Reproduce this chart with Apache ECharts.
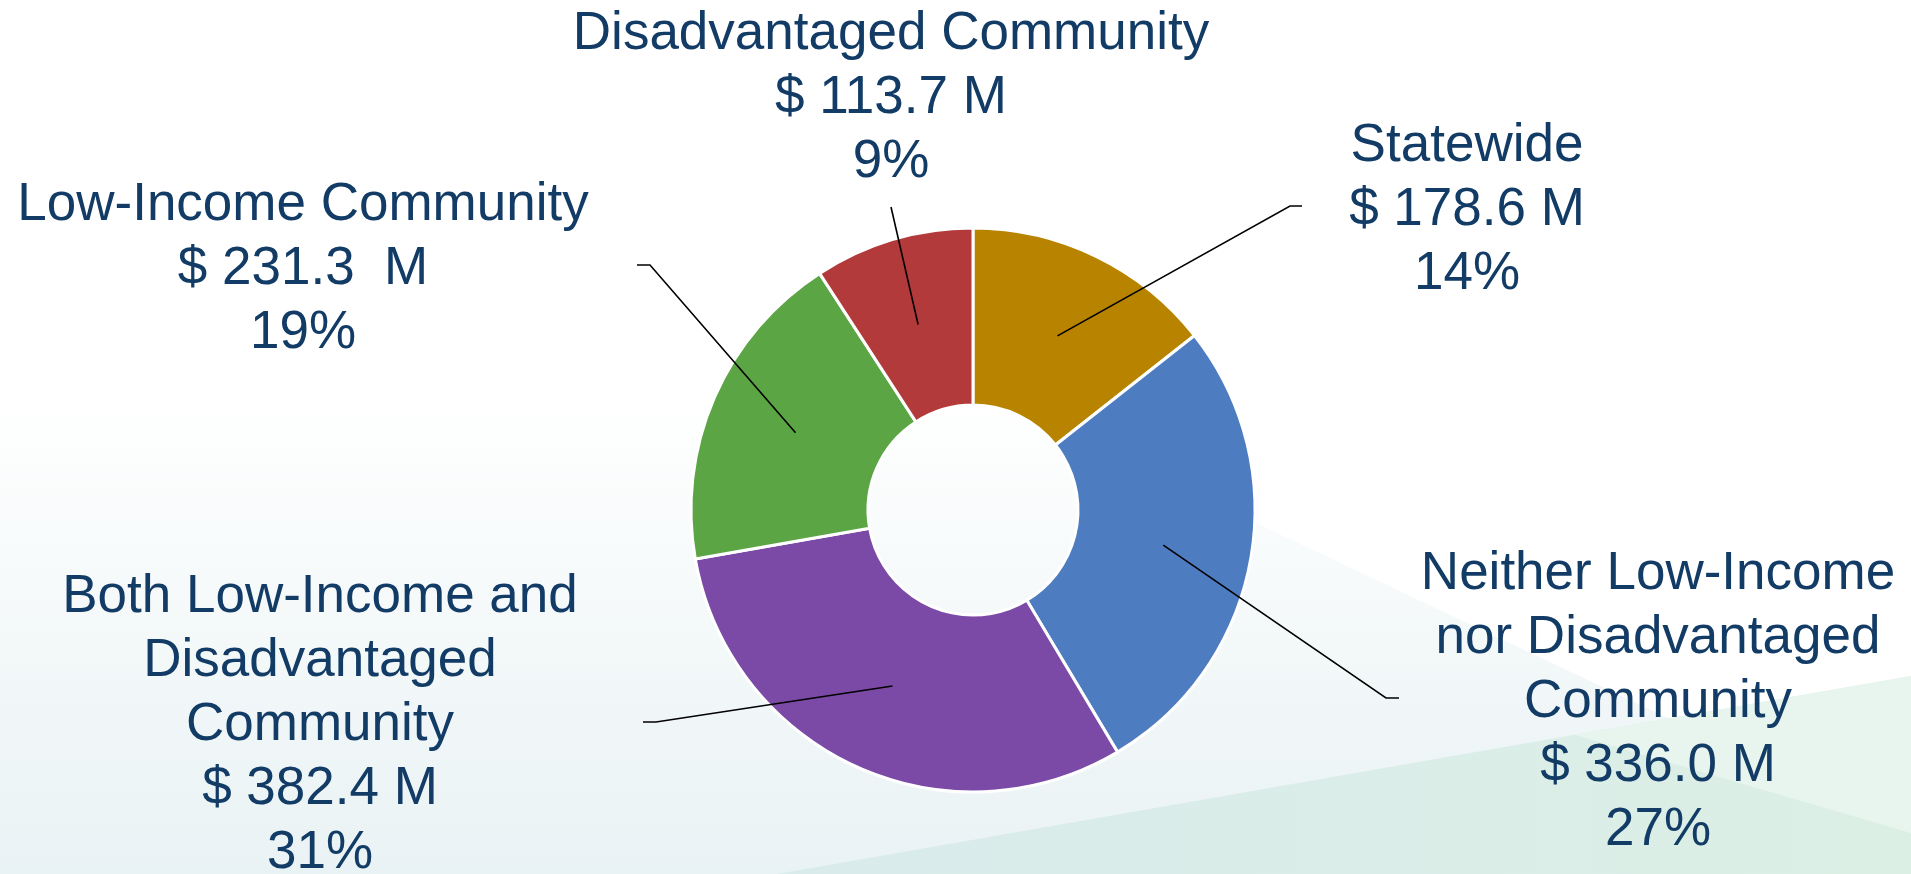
<!DOCTYPE html>
<html>
<head>
<meta charset="utf-8">
<script src="https://cdn.jsdelivr.net/npm/echarts@6/dist/echarts.min.js"></script>
<style>
  html, body { margin: 0; padding: 0; background: #ffffff; }
  #chart { width: 1911px; height: 874px; }
</style>
</head>
<body>
<div id="chart"></div>
<script>
// ---- data ----
const categories = [
  'Statewide',
  'Neither Low-Income\nnor Disadvantaged\nCommunity',
  'Both Low-Income and\nDisadvantaged\nCommunity',
  'Low-Income Community',
  'Disadvantaged Community'
];
const values = [178.6, 336.0, 382.4, 231.3, 113.7];          // $ millions
const amountLabels = ['$ 178.6 M', '$ 336.0 M', '$ 382.4 M', '$ 231.3  M', '$ 113.7 M'];
const colors = ['#B88400', '#4E7CC0', '#7B4AA6', '#5CA544', '#B33A3B'];

// ---- layout (not data) ----
const CENTER = [973, 510];
const R_IN = 105, R_OUT = 282;
const labelPos = [      // label block centre
  [1467, 210], [1658, 702], [320, 725], [303, 269], [891, 98]
];
const lineBends = [     // elbow + end of each leader line
  [[1290, 206], [1302, 206]],
  [[1386, 698], [1399, 698]],
  [[656, 722], [643, 722]],
  [[650, 265], [637, 265]],
  [[891, 207]]
];

const total = values.reduce((a, b) => a + b, 0);
const TEXT = '#123B66';

const chart = echarts.init(document.getElementById('chart'));
chart.setOption({
  backgroundColor: 'transparent',
  animation: false,
  graphic: [
    { type: 'rect', z: -10, silent: true,
      shape: { x: 0, y: 0, width: 1911, height: 874 },
      style: { fill: new echarts.graphic.LinearGradient(0, 0, 0, 1, [
        { offset: 0, color: '#FFFFFF' }, { offset: 0.45, color: '#FFFFFF' },
        { offset: 1, color: '#E9F2F4' }]) } },
    { type: 'polygon', z: -9, silent: true,
      shape: { points: [[600, 0], [1911, 0], [1911, 833], [1256, 523], [600, 213]] },
      style: { fill: '#FFFFFF' } },
    { type: 'polygon', z: -8, silent: true,
      shape: { points: [[777, 874], [1911, 676], [1911, 874]] },
      style: { fill: new echarts.graphic.LinearGradient(0, 0, 1, 0, [
        { offset: 0, color: '#D9EBEB' }, { offset: 1, color: '#DCEFE5' }]) } },
    { type: 'polygon', z: -7, silent: true,
      shape: { points: [[1575, 735], [1911, 676], [1911, 833]] },
      style: { fill: 'rgba(240,248,243,0.6)' } }
  ],
  series: [{
    type: 'pie',
    z: 2,
    center: CENTER,
    radius: [R_IN, R_OUT],
    startAngle: 90,
    clockwise: true,
    silent: true,
    itemStyle: { borderColor: '#FFFFFF', borderWidth: 3 },
    label: { show: false },
    labelLine: { show: false },
    data: categories.map((c, i) => ({ name: c, value: values[i], itemStyle: { color: colors[i] } }))
  }, {
    // same slices, transparent, only carrying labels + leader lines on top
    type: 'pie',
    z: 5,
    center: CENTER,
    radius: [R_IN, R_OUT],
    startAngle: 90,
    clockwise: true,
    silent: true,
    avoidLabelOverlap: false,
    itemStyle: { color: 'rgba(0,0,0,0)', borderWidth: 0 },
    label: {
      show: true,
      position: 'outside',
      color: TEXT,
      fontFamily: '"Liberation Sans", Arial, sans-serif',
      fontSize: 53,
      lineHeight: 64,
      align: 'center',
      formatter: p => categories[p.dataIndex] + '\n' + amountLabels[p.dataIndex] + '\n' +
        Math.round(values[p.dataIndex] / total * 100) + '%'
    },
    labelLine: { show: true, showAbove: true, smooth: false, lineStyle: { color: '#000000', width: 1.6 } },
    labelLayout: function (params) {
      const i = params.dataIndex;
      const p0 = params.labelLinePoints && params.labelLinePoints[0];
      const rMid = (R_IN + R_OUT) / 2;
      let start;
      if (p0) {
        const k = rMid / R_OUT;
        start = [CENTER[0] + (p0[0] - CENTER[0]) * k, CENTER[1] + (p0[1] - CENTER[1]) * k];
      } else {
        let cum = 0; for (let j = 0; j < i; j++) cum += values[j];
        const a = (cum + values[i] / 2) / total * Math.PI * 2;
        start = [CENTER[0] + rMid * Math.sin(a), CENTER[1] - rMid * Math.cos(a)];
      }
      return {
        x: labelPos[i][0], y: labelPos[i][1],
        align: 'center', verticalAlign: 'middle',
        labelLinePoints: [start].concat(lineBends[i])
      };
    },
    data: categories.map((c, i) => ({ name: c, value: values[i] }))
  }]
});
</script>
</body>
</html>
